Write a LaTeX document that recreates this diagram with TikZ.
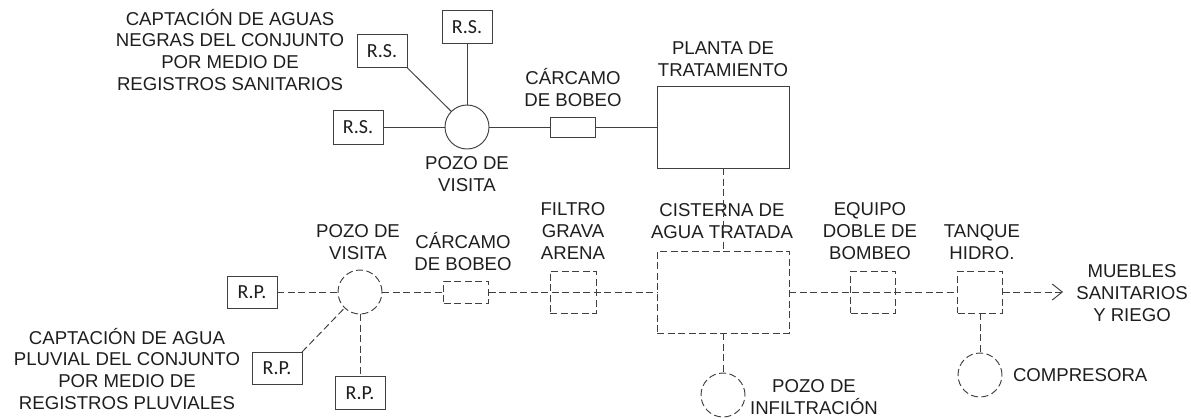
\documentclass[tikz,border=0pt]{standalone}
\usepackage{fontspec}
\setmainfont{Liberation Sans}
\newfontfamily\boxfont{Carlito}
\usepackage{tikz}
\usetikzlibrary{arrows.meta,positioning}
\definecolor{gLine}{HTML}{404040}
\definecolor{gText}{HTML}{1E1E1E}
\tikzset{
  planA/.style={
    every node/.style={inner sep=0pt, outer sep=0pt},
    line width=0.95pt, line cap=butt, line join=miter,
  },
  label/.style={
    font=\fontsize{18.6}{21.8}\selectfont, text=gText,
    align=center, anchor=base,
  },
  regBox/.style={
    draw=gLine, fill=white, minimum width=50pt, minimum height=33pt,
    font=\boxfont\fontsize{20}{22}\selectfont, text=gText,
  },
  unit/.style={draw=gLine},
  unitDash/.style={unit, dash pattern=on 7pt off 3.5pt},
  pozo/.style={circle, draw=gLine, minimum size=44pt},
  pozoDash/.style={pozo, dash pattern=on 7pt off 3.5pt},
  pipe/.style={gLine},
  pipeDash/.style={gLine, dash pattern=on 7pt off 3.5pt},
}
\begin{document}
\begin{tikzpicture}[planA, x=1pt, y=-1pt]
\useasboundingbox (0,0) rectangle (1191,418);

% ============================================================
% TOP LINE: aguas negras (solid)
% label nodes are placed at the baseline of their last line
% ============================================================
\node[label] (captS) at (230, 90.5)
  {CAPTACIÓN DE AGUAS\\NEGRAS DEL CONJUNTO\\POR MEDIO DE\\REGISTROS SANITARIOS};

\node[regBox] (rsA) at (382, 51) {R.S.};
\node[regBox, minimum height=34pt] (rsB) at (358, 127) {R.S.};
\node[regBox] (rsC) at (467, 27) {R.S.};

\node[pozo] (pozoS) at (467, 127) {};
\node[label] (pozoSlab) at (467, 191.5) {POZO DE\\VISITA};

\node[unit, minimum width=45pt, minimum height=20pt] (carcS) at (573, 127) {};
\node[label] (carcSlab) at (573, 106.5) {CÁRCAMO\\DE BOBEO};

\node[unit, minimum width=132pt, minimum height=82pt] (planta) at (723, 127) {};
\node[label] (plantaLab) at (723, 76.5) {PLANTA DE\\TRATAMIENTO};

\draw[pipe] (rsA.south east) -- (pozoS);
\draw[pipe] (rsB) -- (pozoS);
\draw[pipe] (rsC) -- (pozoS);
\draw[pipe] (pozoS) -- (carcS);
\draw[pipe] (carcS) -- (planta);

% ============================================================
% BOTTOM LINE: agua pluvial y tratada (dashed)
% ============================================================
\node[label] (captP) at (127, 409.5)
  {CAPTACIÓN DE AGUA\\PLUVIAL DEL CONJUNTO\\POR MEDIO DE\\REGISTROS PLUVIALES};

\node[regBox, minimum height=32pt] (rpA) at (252, 292) {R.P.};
\node[regBox, minimum height=32pt] (rpB) at (277, 368) {R.P.};
\node[regBox] (rpC) at (360, 393) {R.P.};

\node[pozoDash] (pozoP) at (360, 292) {};
\node[label] (pozoPlab) at (358, 259.5) {POZO DE\\VISITA};

\node[unitDash, minimum width=45pt, minimum height=22pt] (carcP) at (466, 292) {};
\node[label] (carcPlab) at (463, 270.5) {CÁRCAMO\\DE BOBEO};

\node[unitDash, minimum width=46pt, minimum height=42pt] (filtro) at (573, 292) {};
\node[label] (filtroLab) at (573, 259.5) {FILTRO\\GRAVA\\ARENA};

\node[unitDash, minimum width=132pt, minimum height=82pt] (cist) at (723, 292) {};
\node[label] (cistLab) at (722, 238.5) {CISTERNA DE\\AGUA TRATADA};

\node[unitDash, minimum width=45pt, minimum height=42pt] (equipo) at (873, 292) {};
\node[label] (equipoLab) at (870, 259.5) {EQUIPO\\DOBLE DE\\BOMBEO};

\node[unitDash, minimum width=45pt, minimum height=42pt] (tanque) at (980, 292) {};
\node[label] (tanqueLab) at (982, 259.5) {TANQUE\\HIDRO.};

\coordinate (salida) at (1063, 292);
\node[label] (mueblesLab) at (1132, 321.5) {MUEBLES\\SANITARIOS\\Y RIEGO};

\node[pozoDash] (compresora) at (980, 375) {};
\node[label, anchor=base west] (compLab) at (1013, 381.5) {COMPRESORA};

\node[pozoDash] (infil) at (723, 395) {};
\node[label] (infilLab) at (814, 414.5) {POZO DE\\INFILTRACIÓN};

% planta feeds the cistern
\draw[pipeDash] (planta) -- (cist);

\draw[pipeDash] (rpA) -- (pozoP);
\draw[pipeDash] (rpB.north east) -- (pozoP);
\draw[pipeDash] (pozoP) -- (rpC);
\draw[pipeDash] (pozoP) -- (carcP);
\draw[pipeDash] (carcP) -- (cist);   % runs through the filter
\draw[pipeDash] (cist) -- (tanque);  % runs through the pump set
\draw[pipeDash, -{Straight Barb[length=10pt, width=16pt]}] (tanque) -- (salida);
\draw[pipeDash] (tanque) -- (compresora);
\draw[pipeDash] (cist) -- (infil);

\end{tikzpicture}
\end{document}
